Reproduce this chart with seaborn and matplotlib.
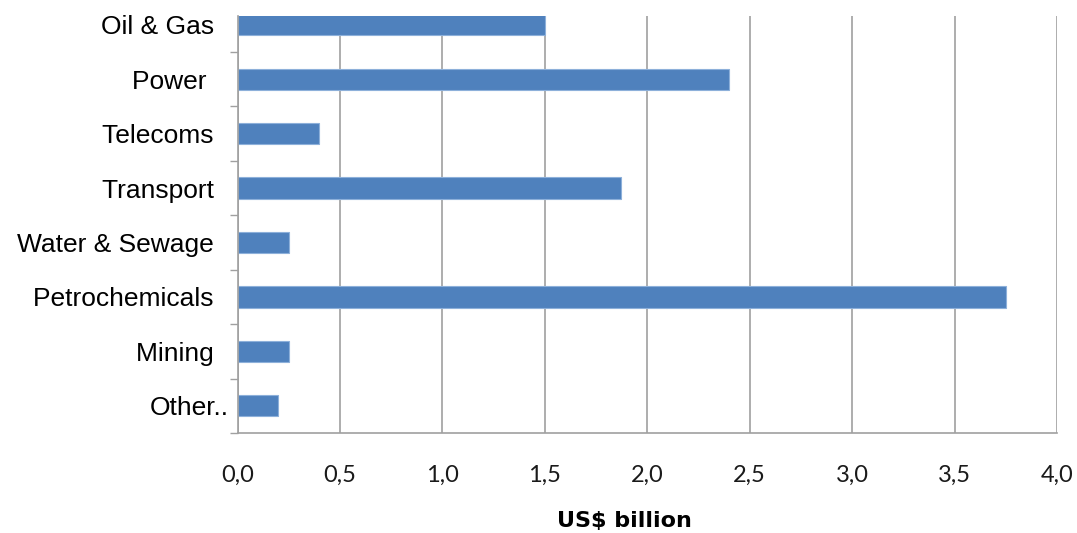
import matplotlib
matplotlib.use("Agg")
import matplotlib.pyplot as plt
import seaborn as sns
import pandas as pd
import numpy as np
from matplotlib.ticker import FixedLocator

categories = ["Oil & Gas", "Power", "Telecoms", "Transport", "Water & Sewage",
              "Petrochemicals", "Mining", "Other.."]
# labels as typed in the source (with trailing spaces)
category_labels = ["Oil & Gas  ", "Power   ", "Telecoms  ", "Transport  ", "Water & Sewage  ",
                   "Petrochemicals  ", "Mining  ", "Other.."]
values = [1.5, 2.4, 0.4, 1.87, 0.25, 3.75, 0.25, 0.2]
x_ticks = [0.0, 0.5, 1.0, 1.5, 2.0, 2.5, 3.0, 3.5, 4.0]
x_tick_labels = ["0,0", "0,5", "1,0", "1,5", "2,0", "2,5", "3,0", "3,5", "4,0"]
x_label = "US$ billion"

sns.set_theme(style="white")
plt.rcParams["font.family"] = ["Liberation Sans", "DejaVu Sans"]

df = pd.DataFrame({"category": categories, "value": values})

fig = plt.figure(figsize=(10.77, 5.33), dpi=100)
ax = fig.add_axes([237.5 / 1077, 1 - 433 / 533, 819.5 / 1077, 417 / 533])

sns.barplot(data=df, x="value", y="category", orient="h", color="#4F81BD",
            saturation=1, width=0.39, edgecolor="#8DB0DA", linewidth=0.8, ax=ax)

grid_color = "#A0A0A0"
ax.set_xlim(0, 4.0)
ax.set_ylim(7.5, -0.16)
ax.set_xticks(x_ticks)
ax.set_xticklabels(x_tick_labels, fontfamily="Lato", fontsize=17, color="#1a1a1a")
ax.set_yticks(range(len(categories)))
ax.set_yticklabels(category_labels, fontsize=19, color="black")
ax.yaxis.set_minor_locator(FixedLocator(np.arange(0.5, 8, 1.0)))

ax.tick_params(axis="x", which="major", length=0, pad=23)
ax.tick_params(axis="y", which="major", length=0, pad=6.5)
ax.tick_params(axis="y", which="minor", left=True, length=5.5, width=1.0, color=grid_color)

ax.grid(axis="x", color=grid_color, linewidth=1.2)
ax.grid(axis="y", visible=False)
ax.set_axisbelow(True)

for side in ["top", "right"]:
    ax.spines[side].set_visible(False)
for side in ["left", "bottom"]:
    ax.spines[side].set_color(grid_color)
    ax.spines[side].set_linewidth(1.2)

ax.set_ylabel("")
ax.set_xlabel(x_label, fontfamily="DejaVu Sans", fontweight="bold", fontsize=16, color="black")
ax.xaxis.set_label_coords(0.472, -0.187)
ax.xaxis.label.set_verticalalignment("top")

fig.savefig("out.png", dpi=100, facecolor="white")
